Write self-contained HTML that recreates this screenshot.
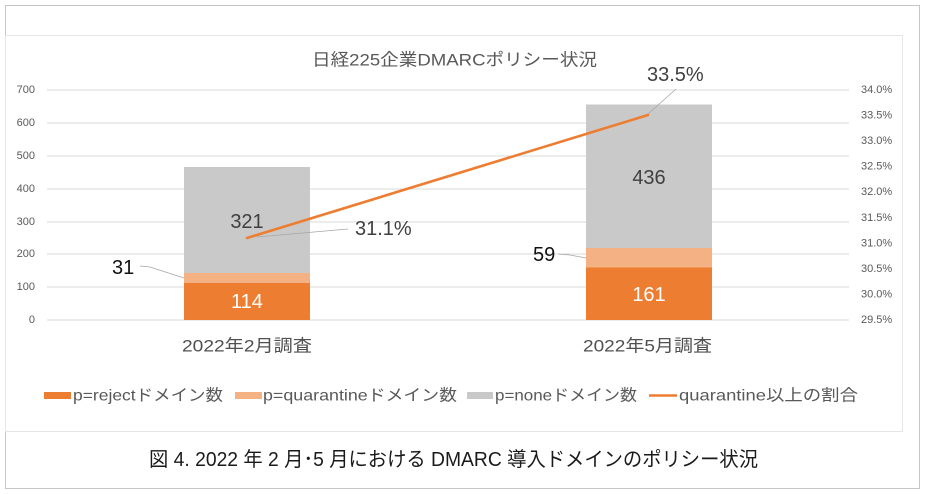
<!DOCTYPE html>
<html>
<head>
<meta charset="utf-8">
<style>
html,body{margin:0;padding:0;background:#fff;}
svg{display:block;}
text{font-family:"Liberation Sans","Noto Sans CJK JP",sans-serif;}
</style>
</head>
<body>
<svg width="925" height="494" viewBox="0 0 925 494" xmlns="http://www.w3.org/2000/svg">
  <rect x="0" y="0" width="925" height="494" fill="#fff"/>
  <!-- outer frame -->
  <rect x="5.5" y="5.5" width="914" height="483" fill="none" stroke="#c6c6c6" stroke-width="1"/>
  <!-- inner chart frame -->
  <rect x="5.5" y="35.5" width="897" height="396" fill="none" stroke="#e6e6e6" stroke-width="1"/>

  <!-- title -->
  <text x="312" y="60" dominant-baseline="central" font-size="17" fill="#595959" textLength="285" lengthAdjust="spacingAndGlyphs">日経225企業DMARCポリシー状況</text>

  <!-- gridlines -->
  <g stroke="#d9d9d9" stroke-width="1">
    <line x1="47" y1="90" x2="849" y2="90"/>
    <line x1="47" y1="123" x2="849" y2="123"/>
    <line x1="47" y1="156" x2="849" y2="156"/>
    <line x1="47" y1="189" x2="849" y2="189"/>
    <line x1="47" y1="222" x2="849" y2="222"/>
    <line x1="47" y1="254" x2="849" y2="254"/>
    <line x1="47" y1="287" x2="849" y2="287"/>
    <line x1="47" y1="320" x2="849" y2="320"/>
  </g>

  <!-- left axis labels -->
  <g font-size="11" fill="#595959" text-anchor="end" dominant-baseline="central">
    <text x="35" y="90">700</text>
    <text x="35" y="123">600</text>
    <text x="35" y="156">500</text>
    <text x="35" y="189">400</text>
    <text x="35" y="222">300</text>
    <text x="35" y="254">200</text>
    <text x="35" y="287">100</text>
    <text x="35" y="320">0</text>
  </g>

  <!-- right axis labels -->
  <g font-size="11" fill="#595959" dominant-baseline="central">
    <text x="861" y="90">34.0%</text>
    <text x="861" y="115.6">33.5%</text>
    <text x="861" y="141.1">33.0%</text>
    <text x="861" y="166.7">32.5%</text>
    <text x="861" y="192.2">32.0%</text>
    <text x="861" y="217.8">31.5%</text>
    <text x="861" y="243.3">31.0%</text>
    <text x="861" y="268.9">30.5%</text>
    <text x="861" y="294.4">30.0%</text>
    <text x="861" y="320">29.5%</text>
  </g>

  <!-- bars -->
  <rect x="184" y="167" width="126" height="106" fill="#c9c9c9"/>
  <rect x="184" y="273" width="126" height="10" fill="#f4b183"/>
  <rect x="184" y="283" width="126" height="37" fill="#ed7d31"/>

  <rect x="586" y="104.5" width="126" height="143.5" fill="#c9c9c9"/>
  <rect x="586" y="248" width="126" height="19.5" fill="#f4b183"/>
  <rect x="586" y="267.5" width="126" height="52.5" fill="#ed7d31"/>

  <!-- leader lines -->
  <g stroke="#a6a6a6" stroke-width="0.8" fill="none">
    <polyline points="257,237 348,229"/>
    <polyline points="648,114 676,89"/>
    <polyline points="140,266 150,267 184,278"/>
    <polyline points="558,254 570,255 586,258"/>
  </g>

  <!-- line series -->
  <line x1="247" y1="238" x2="648" y2="115" stroke="#ed7d31" stroke-width="2.6" stroke-linecap="round"/>

  <!-- data labels -->
  <g font-size="20" dominant-baseline="central">
    <text x="247" y="222" text-anchor="middle" fill="#404040">321</text>
    <text x="355" y="229" fill="#404040">31.1%</text>
    <text x="647" y="75" fill="#404040">33.5%</text>
    <text x="649" y="178" text-anchor="middle" fill="#404040">436</text>
    <text x="247" y="302" text-anchor="middle" fill="#ffffff">114</text>
    <text x="649" y="295" text-anchor="middle" fill="#ffffff">161</text>
    <text x="112" y="268" fill="#111111">31</text>
    <text x="533" y="255" fill="#111111">59</text>
  </g>

  <!-- category labels -->
  <g font-size="17" fill="#505050" dominant-baseline="central">
    <text x="182" y="346" textLength="130" lengthAdjust="spacingAndGlyphs">2022年2月調査</text>
    <text x="583" y="346" textLength="129" lengthAdjust="spacingAndGlyphs">2022年5月調査</text>
  </g>

  <!-- legend -->
  <rect x="44" y="392" width="27" height="7" fill="#ed7d31"/>
  <rect x="235" y="392" width="27" height="7" fill="#f4b183"/>
  <rect x="467" y="392" width="26" height="7" fill="#c9c9c9"/>
  <line x1="649" y1="395.5" x2="677" y2="395.5" stroke="#ed7d31" stroke-width="2.6"/>
  <g font-size="16" fill="#595959" dominant-baseline="central">
    <text x="73" y="396" textLength="150" lengthAdjust="spacingAndGlyphs">p=rejectドメイン数</text>
    <text x="263" y="396" textLength="194" lengthAdjust="spacingAndGlyphs">p=quarantineドメイン数</text>
    <text x="495" y="396" textLength="142" lengthAdjust="spacingAndGlyphs">p=noneドメイン数</text>
    <text x="679" y="396" textLength="179" lengthAdjust="spacingAndGlyphs">quarantine以上の割合</text>
  </g>

  <!-- caption -->
  <text x="149" y="460" dominant-baseline="central" font-size="20" fill="#1a1a1a" textLength="609" lengthAdjust="spacingAndGlyphs">図 4. 2022 年 2 月･5 月における DMARC 導入ドメインのポリシー状況</text>
</svg>
</body>
</html>
